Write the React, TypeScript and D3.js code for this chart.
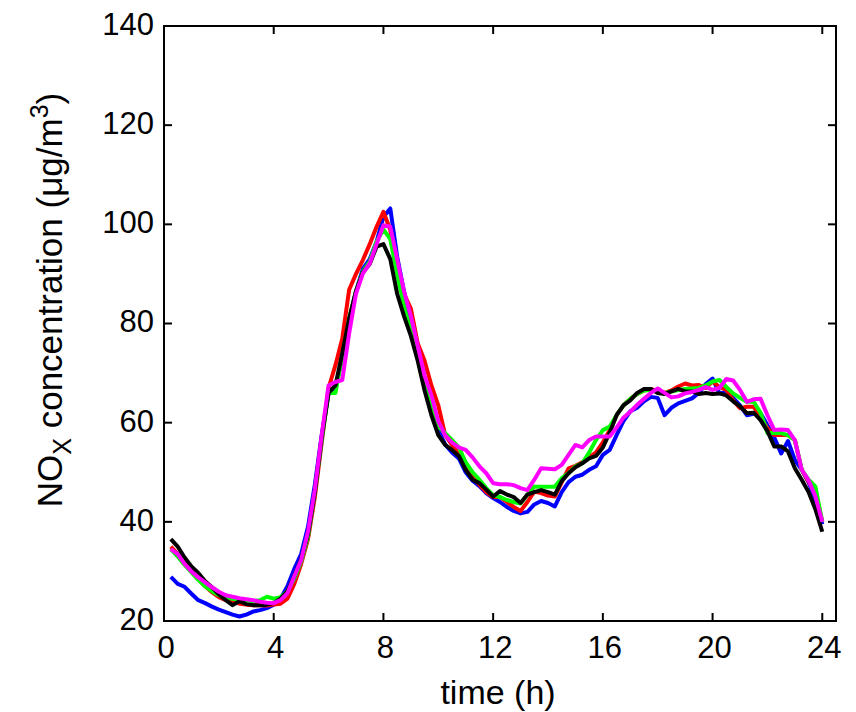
import * as d3 from 'd3';

// hours at quarter-hour steps, 0.25 .. 24
const hours = d3.range(1, 97).map(i => i / 4);

const blueSeries = [
  28.9, 27.5, 26.9, 25.5, 24.2, 23.6, 22.9, 22.3, 21.8, 21.3, 20.9, 21.3,
  21.9, 22.2, 22.6, 23.3, 24.5, 27.0, 30.5, 33.5, 39, 47.5, 57.5, 66,
  67, 73, 80.5, 86.5, 91, 93, 96.5, 101.5, 103.2, 93.5, 86.5, 80.5,
  74.5, 68, 62, 58.5, 55.6, 54, 52.8, 50, 48.3, 47.2, 45.8, 44.8,
  44, 43, 42.2, 41.7, 42, 43.5, 44.2, 43.8, 43.1, 46, 48, 49.1,
  49.5, 50.5, 51.2, 53.5, 54.5, 57.5, 60.3, 62.3, 63, 64.3, 65.2, 65,
  61.5, 63, 63.9, 64.4, 64.9, 66, 67.8, 68.9, 65.9, 66.2, 65, 63.5,
  61.5, 61.8, 61.9, 59.5, 57, 53.8, 56.3, 52.5, 50.5, 48, 44.5, 39.5,
];

const redSeries = [
  35, 33.5, 31.8, 30, 28.5, 27, 25.8, 24.8, 24.2, 23.8, 23.5, 23.3,
  23.2, 23.2, 23.1, 23.3, 23.5, 24.5, 27.5, 31.5, 36.5, 45, 56, 67,
  71.6, 77, 86.8, 90, 92.8, 96, 99.5, 102.5, 98.9, 91, 86, 83,
  76, 72.5, 67.5, 63.5, 57.5, 55.5, 54, 51.5, 49, 47.5, 46, 45,
  45, 44, 43, 42.2, 44, 46.1, 45.8, 45.3, 45.1, 48, 50.8, 51.3,
  52, 53, 54, 56, 58.5, 61.5, 63.5, 64.8, 65.8, 66.5, 66.8, 66.3,
  66, 66.5, 67.3, 67.9, 67.5, 67.6, 67, 68.3, 67.2, 66.6, 64.5, 62.9,
  63.2, 63.2, 61, 58.9, 57.5, 57.5, 57.5, 56.5, 50.5, 48.1, 46, 40,
];

const greenSeries = [
  34.5, 33, 31.3, 29.8, 28.3, 27, 26, 25.2, 24.7, 24.5, 24.3, 24.2,
  24, 24.2, 24.9, 24.5, 24.8, 26, 28.5, 32, 37, 46, 56.5, 66,
  66, 73.5, 81, 86.5, 90.5, 92.5, 96.5, 99, 97, 90, 83.5, 78.5,
  73, 67.5, 63, 59.2, 57.9, 56.5, 55, 52, 50, 48.5, 46.8, 45.4,
  45, 44.4, 44, 43.7, 45.5, 47.1, 47.1, 47.1, 47.1, 48.8, 49.8, 51.2,
  51.8, 54, 56.5, 58.5, 59.2, 61.5, 63.5, 64.8, 65.8, 66.5, 66.6, 66.2,
  66, 66.3, 66.6, 66.8, 66.9, 67, 67.5, 68.3, 68.6, 67.2, 65.9, 65,
  64.2, 64.2, 62, 57.9, 57.9, 57.9, 57.5, 56.5, 50.5, 48.5, 47.1, 40,
];

const blackSeries = [
  36.5, 35, 32.8, 31, 29.7, 28, 26.8, 25.4, 24.2, 23.2, 24, 23.4,
  23.2, 23.2, 23.3, 23.6, 24.5, 26, 29, 32.5, 37.5, 46, 57, 66,
  67.5, 74, 81, 86.5, 90.3, 92, 95.5, 96, 93, 86, 81.5, 77.5,
  72.5, 66.5, 61.5, 57.5, 55.5, 54.5, 53.3, 50.5, 48.5, 47.8, 46.5, 45.1,
  46.2, 45.5, 45, 43.8, 45.5, 46, 46.4, 46, 45.5, 48.2, 49.8, 51,
  51.8, 52.8, 53.3, 55, 58, 61.5, 63.5, 64.5, 66, 66.8, 66.8, 66,
  65.8, 66.3, 66.8, 66.3, 66.3, 65.8, 66, 65.8, 65.9, 65.5, 64.3, 63.3,
  61.9, 62, 60.5, 58.3, 55.2, 55.2, 54.2, 50.8, 48.5, 46, 42.5, 38,
];

const magentaSeries = [
  34.5, 33.5, 31.5, 30, 28.8, 27.8, 26.8, 25.9, 25.2, 24.9, 24.6, 24.4,
  24.2, 23.9, 23.7, 23.6, 24.2, 25.6, 29, 32.3, 38, 46.5, 57.5, 67.5,
  68.2, 68.6, 78, 86, 90.1, 92.1, 96, 99.8, 99.5, 93, 86.5, 81.5,
  75.5, 69.5, 65.5, 60.3, 57.5, 56, 55, 54.5, 53, 51.2, 49.8, 47.8,
  47.6, 47.6, 47.4, 46.8, 46.4, 48.5, 50.8, 50.7, 50.6, 51.5, 53.5, 55.5,
  55, 56.5, 57.2, 57.2, 57.2, 59, 61, 62.2, 63.6, 64.8, 66, 66.9,
  66, 65.1, 65.3, 65.9, 66.2, 66.6, 67.2, 66.6, 67, 68.8, 68.5, 66.6,
  64.2, 64.7, 64.8, 61.5, 58.5, 58.6, 58.5, 56.5, 50.5, 48.4, 45.1, 40,
];

const xTicks = [0, 4, 8, 12, 16, 20, 24];
const yTicks = [20, 40, 60, 80, 100, 120, 140];

const seriesList = [
  { name: 'blue', color: '#0000ff', values: blueSeries },
  { name: 'red', color: '#ff0000', values: redSeries },
  { name: 'green', color: '#00ff00', values: greenSeries },
  { name: 'black', color: '#000000', values: blackSeries },
  { name: 'magenta', color: '#ff00ff', values: magentaSeries },
];

const W = 856;
const H = 712;
const left = 164;
const right = 836;
const top = 26;
const bottom = 621;
const tickLen = 8;
const font = 'Liberation Sans, Arial, sans-serif';

export default function App() {
  const x = d3.scaleLinear().domain([0, 24.5]).range([left, right]);
  const y = d3.scaleLinear().domain([20, 140]).range([bottom, top]);

  const line = d3
    .line<number>()
    .x((_, i) => x(hours[i]))
    .y(d => y(d));

  return (
    <svg width={W} height={H} style={{ position: 'absolute', left: 0, top: 0, background: '#fff' }}>
      <rect x={0} y={0} width={W} height={H} fill="#fff" />
      {seriesList.map(s => (
        <path
          key={s.name}
          d={line(s.values) || ''}
          fill="none"
          stroke={s.color}
          strokeWidth={4}
          strokeLinejoin="round"
        />
      ))}

      {/* frame */}
      <rect x={left} y={top} width={right - left} height={bottom - top} fill="none" stroke="#000" strokeWidth={2} />

      {/* ticks */}
      {xTicks.map(t => (
        <g key={'x' + t}>
          <line x1={x(t)} x2={x(t)} y1={bottom} y2={bottom - tickLen} stroke="#000" strokeWidth={2} />
          <line x1={x(t)} x2={x(t)} y1={top} y2={top + tickLen} stroke="#000" strokeWidth={2} />
          <text x={x(t) + 2} y={658} textAnchor="middle" fontFamily={font} fontSize={31} fill="#000">
            {t}
          </text>
        </g>
      ))}
      {yTicks.map(t => (
        <g key={'y' + t}>
          <line x1={left} x2={left + tickLen} y1={y(t)} y2={y(t)} stroke="#000" strokeWidth={2} />
          <line x1={right} x2={right - tickLen} y1={y(t)} y2={y(t)} stroke="#000" strokeWidth={2} />
          <text x={154} y={y(t) - 2} dy="0.35em" textAnchor="end" fontFamily={font} fontSize={31} fill="#000">
            {t}
          </text>
        </g>
      ))}

      {/* axis titles */}
      <text x={498} y={704} textAnchor="middle" fontFamily={font} fontSize={34} fill="#000">
        time (h)
      </text>
      <text
        transform={`translate(62, 300) rotate(-90)`}
        textAnchor="middle"
        fontFamily={font}
        fontSize={35}
        fill="#000"
      >
        NO
        <tspan fontSize={25} dy={9}>X</tspan>
        <tspan dy={-9}> concentration (μg/m</tspan>
        <tspan fontSize={25} dy={-14}>3</tspan>
        <tspan dy={14}>)</tspan>
      </text>
    </svg>
  );
}
